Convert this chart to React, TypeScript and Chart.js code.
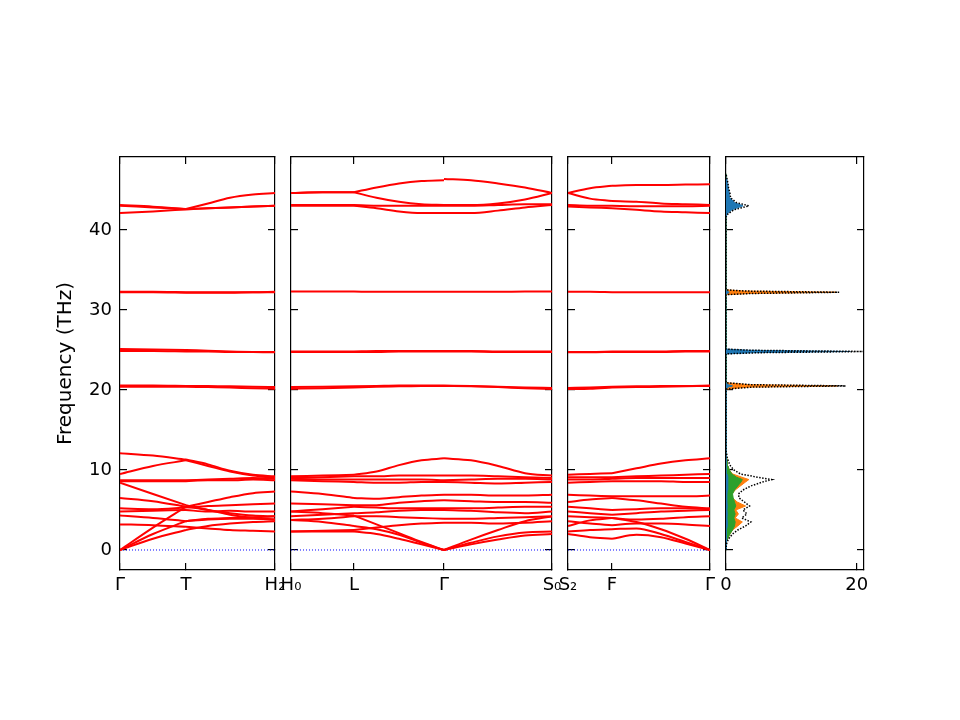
import React, { useEffect, useRef } from 'react';
import { Chart, registerables } from 'chart.js';

Chart.register(...registerables);

// ---------- axes / labels ----------
const Y_MIN = -2.5;
const Y_MAX = 49.1;
const yTickValues = [0, 10, 20, 30, 40];
const yTickLabels = ['0', '10', '20', '30', '40'];
const yTitle = 'Frequency (THz)';

const path1Ticks = [0, 0.66, 1.55];
const path1Labels = ['Γ', 'T', 'H₂'];
const path2Ticks = [0, 0.63, 1.53, 2.61];
const path2Labels = ['H₀', 'L', 'Γ', 'S₀'];
const path3Ticks = [0, 0.44, 1.42];
const path3Labels = ['S₂', 'F', 'Γ'];
const dosTicks = [0, 20];
const dosTickLabels = ['0', '20'];
const DOS_MAX = 21.1;

// ---------- band data (THz), sampled along each path ----------
const path1X = [0, 0.33, 0.66, 0.88, 1.1, 1.33, 1.55];
const path1Bands = [
  [12.1, 11.8, 11.3, 10.7, 9.9, 9.4, 9.2],
  [9.5, 10.5, 11.2, 10.5, 9.8, 9.3, 9.0],
  [8.7, 8.7, 8.7, 8.8, 8.9, 9.0, 8.9],
  [8.6, 8.6, 8.6, 8.7, 8.7, 8.8, 8.7],
  [8.4, 7.0, 5.6, 5.0, 4.6, 4.3, 4.2],
  [6.5, 6.1, 5.4, 6.0, 6.6, 7.1, 7.3],
  [5.2, 5.1, 5.3, 5.5, 5.6, 5.7, 5.8],
  [4.8, 4.9, 5.0, 4.8, 4.9, 4.8, 4.8],
  [4.3, 4.0, 3.6, 3.8, 3.9, 3.9, 3.8],
  [3.2, 3.1, 2.9, 2.7, 2.5, 2.4, 2.3],
  [0, 2.8, 5.4, 5.0, 4.4, 4.0, 3.8],
  [0, 2.0, 3.6, 3.9, 4.0, 4.1, 4.2],
  [0, 1.4, 2.5, 3.0, 3.3, 3.5, 3.6],
  [32.25, 32.25, 32.2, 32.2, 32.2, 32.2, 32.25],
  [32.2, 32.2, 32.15, 32.15, 32.15, 32.2, 32.2],
  [25.1, 25.05, 25.0, 24.9, 24.8, 24.75, 24.75],
  [24.85, 24.85, 24.8, 24.8, 24.75, 24.75, 24.7],
  [20.55, 20.55, 20.5, 20.5, 20.45, 20.4, 20.35],
  [20.4, 20.4, 20.4, 20.35, 20.3, 20.2, 20.15],
  [43.1, 42.9, 42.6, 43.3, 44.0, 44.4, 44.6],
  [43.0, 42.8, 42.6, 42.7, 42.8, 42.9, 43.0],
  [42.1, 42.3, 42.55, 42.7, 42.8, 42.9, 43.0],
];

const path2X = [0, 0.315, 0.63, 0.855, 1.08, 1.305, 1.53, 1.8, 2.07, 2.34, 2.61];
const path2Bands: (number | null)[][] = [
  [9.2, 9.3, 9.4, 9.8, 10.6, 11.2, 11.45, 11.2, 10.5, 9.6, 9.3],
  [9.0, 9.1, 9.2, 9.2, 9.3, 9.3, 9.3, 9.3, 9.2, 9.1, 9.0],
  [8.9, 8.8, 8.8, 8.8, 8.8, 8.8, 8.7, 8.8, 8.9, 8.9, 8.8],
  [8.7, 8.6, 8.5, 8.4, 8.4, 8.5, 8.5, 8.4, 8.3, 8.4, 8.5],
  [7.3, 7.0, 6.5, 6.4, 6.6, 6.8, 6.9, 6.9, 6.8, 6.8, 6.9],
  [5.8, 5.7, 5.6, 5.6, 5.9, 6.1, 6.2, 6.1, 6.0, 6.0, 5.9],
  [4.8, 5.1, 5.4, 5.3, 5.2, 5.2, 5.2, 5.2, 5.3, 5.4, 5.4],
  [4.2, 4.4, 4.6, 4.7, 4.9, 5.0, 5.0, 4.9, 4.7, 4.6, 4.8],
  [3.75, 3.9, 4.2, 4.2, 4.1, 4.0, 3.9, 3.9, 4.0, 4.1, 4.2],
  [2.3, 2.4, 2.5, 2.8, 3.1, 3.3, 3.4, 3.4, 3.3, 3.4, 3.6],
  [4.8, 4.6, 4.3, 3.2, 2.1, 1.0, 0, 1.3, 2.5, 3.6, 4.2],
  [3.75, 3.5, 3.0, 2.6, 1.9, 0.9, 0, 0.9, 1.7, 2.2, 2.3],
  [2.3, 2.3, 2.3, 2.0, 1.4, 0.7, 0, 0.7, 1.3, 1.8, 2.0],
  [32.3, 32.3, 32.3, 32.25, 32.25, 32.25, 32.25, 32.25, 32.25, 32.3, 32.3],
  [24.8, 24.8, 24.8, 24.85, 24.85, 24.85, 24.85, 24.85, 24.8, 24.8, 24.8],
  [24.75, 24.75, 24.75, 24.75, 24.8, 24.8, 24.8, 24.8, 24.75, 24.75, 24.75],
  [20.35, 20.4, 20.45, 20.5, 20.55, 20.55, 20.55, 20.5, 20.4, 20.3, 20.25],
  [20.15, 20.2, 20.3, 20.4, 20.45, 20.5, 20.5, 20.45, 20.35, 20.2, 20.1],
  [44.6, 44.7, 44.7, 45.3, 45.8, 46.1, 46.2, null, null, null, null],
  [null, null, null, null, null, null, 46.35, 46.2, 45.8, 45.3, 44.6],
  [44.6, 44.7, 44.7, 44.0, 43.5, 43.2, 43.1, 43.1, 43.3, 43.8, 44.6],
  [43.1, 43.1, 43.1, 43.0, 43.0, 43.0, 43.0, 43.0, 43.1, 43.2, 43.2],
  [43.0, 43.0, 43.0, 42.7, 42.3, 42.1, 42.1, 42.1, 42.4, 42.8, 43.1],
];

const path3X = [0, 0.22, 0.44, 0.685, 0.93, 1.175, 1.42];
const path3Bands = [
  [9.4, 9.5, 9.6, 10.2, 10.8, 11.2, 11.45],
  [9.1, 9.1, 9.1, 9.2, 9.3, 9.4, 9.5],
  [8.8, 8.8, 8.9, 9.0, 9.0, 9.0, 9.0],
  [8.4, 8.5, 8.6, 8.6, 8.6, 8.5, 8.5],
  [6.9, 6.8, 6.7, 6.7, 6.7, 6.7, 6.8],
  [6.0, 6.3, 6.5, 6.2, 5.8, 5.4, 5.2],
  [5.4, 5.2, 5.0, 5.1, 5.2, 5.2, 5.1],
  [4.8, 4.6, 4.4, 4.6, 4.8, 4.9, 5.0],
  [4.2, 4.1, 4.0, 3.8, 3.9, 4.1, 4.2],
  [3.6, 3.3, 3.1, 3.3, 3.3, 3.2, 3.0],
  [3.0, 3.7, 4.0, 3.5, 2.6, 1.4, 0],
  [2.3, 2.5, 2.6, 2.7, 2.0, 1.0, 0],
  [2.0, 1.6, 1.4, 1.9, 1.6, 0.8, 0],
  [32.25, 32.25, 32.2, 32.2, 32.2, 32.2, 32.2],
  [24.75, 24.75, 24.8, 24.8, 24.8, 24.85, 24.85],
  [24.7, 24.7, 24.75, 24.75, 24.75, 24.8, 24.8],
  [20.25, 20.3, 20.4, 20.45, 20.5, 20.5, 20.55],
  [20.1, 20.15, 20.3, 20.35, 20.4, 20.45, 20.5],
  [44.6, 45.2, 45.5, 45.6, 45.6, 45.65, 45.7],
  [44.6, 43.9, 43.6, 43.5, 43.3, 43.2, 43.1],
  [43.1, 43.0, 43.0, 42.95, 42.95, 42.95, 43.0],
  [42.9, 42.8, 42.7, 42.5, 42.3, 42.2, 42.1],
];

// ---------- DOS data ----------
const dosFreq = [
  0, 0.5, 1, 1.5, 2, 2.5, 3, 3.5, 4, 4.5, 5, 5.5, 6, 6.5, 7, 7.5, 8, 8.5, 8.8, 9.1, 9.5, 10, 10.5, 11, 11.5, 12, 12.4,
  20.1, 20.35, 20.5, 20.65, 20.9,
  24.5, 24.65, 24.8, 24.95, 25.1,
  31.9, 32.05, 32.2, 32.35, 32.5,
  41.6, 42.0, 42.5, 43.0, 43.4, 44.0, 44.6, 45.2, 45.8, 46.4, 47.0,
];
const dosTotal = [
  0, 0.05, 0.15, 0.5, 1.0, 1.8, 3.0, 3.8, 2.4, 3.2, 2.6, 3.6, 2.8, 2.0, 1.9, 2.6, 3.8, 5.6, 7.0, 4.8, 2.2, 1.2, 0.7, 0.4, 0.2, 0.1, 0,
  0, 4, 18.3, 4, 0,
  0, 5, 21.5, 4, 0,
  0, 4, 17.3, 3, 0,
  0, 0.3, 1.2, 3.5, 1.6, 0.7, 0.6, 0.4, 0.3, 0.15, 0,
];
const dosBlue = [
  0, 0, 0.02, 0.05, 0.1, 0.15, 0.2, 0.2, 0.15, 0.2, 0.15, 0.2, 0.15, 0.15, 0.15, 0.2, 0.25, 0.3, 0.3, 0.25, 0.15, 0.1, 0.08, 0.05, 0.03, 0.01, 0,
  0, 0.3, 1.0, 0.3, 0,
  0, 4, 19, 3.5, 0,
  0, 0.2, 0.5, 0.1, 0,
  0, 0.2, 0.9, 2.6, 1.3, 0.6, 0.5, 0.35, 0.25, 0.1, 0,
];
const dosOrange = [
  0, 0.03, 0.1, 0.3, 0.6, 1.0, 1.8, 2.5, 1.4, 1.9, 1.5, 3.0, 1.7, 1.0, 0.9, 1.4, 2.2, 3.0, 3.5, 2.4, 1.0, 0.5, 0.3, 0.2, 0.1, 0.05, 0,
  0, 3.5, 17, 3.5, 0,
  0, 1, 2.5, 0.8, 0,
  0, 3.6, 16.8, 2.8, 0,
  0, 0.1, 0.3, 0.9, 0.3, 0.1, 0.1, 0.05, 0.05, 0.05, 0,
];
const dosGreen = [
  0, 0.02, 0.08, 0.3, 0.6, 1.0, 1.3, 1.4, 1.2, 1.4, 1.2, 1.5, 1.3, 1.1, 1.0, 1.3, 1.8, 2.3, 2.5, 1.6, 0.9, 0.5, 0.3, 0.2, 0.1, 0.05, 0,
  0, 0.1, 0.4, 0.1, 0,
  0, 0.1, 0.2, 0.1, 0,
  0, 0.1, 0.2, 0.1, 0,
  0, 0, 0.05, 0.1, 0.05, 0, 0, 0, 0, 0, 0,
];

// ---------- layout ----------
const W = 960;
const H = 720;
const PANEL_TOP = 157;
const PANEL_BOTTOM = 570;
const panels = [
  { left: 120, right: 275 },
  { left: 291, right: 552 },
  { left: 568, right: 710 },
  { left: 726, right: 864 },
];
const FONT = "'DejaVu Sans', sans-serif";
const TICK_LEN = -7;
const TOP_H = 10;
const BOTTOM_H = 40;
const RIGHT_W = 10;

type AxisCfg = {
  position: string;
  min: number;
  max: number;
  values: number[];
  labels?: string[];
  size: number;
  padding?: number;
  title?: string;
};

function makeAxis(cfg: AxisCfg) {
  return {
    type: 'linear',
    position: cfg.position,
    min: cfg.min,
    max: cfg.max,
    afterBuildTicks: (s: any) => {
      s.ticks = cfg.values.map((v) => ({ value: v }));
    },
    afterFit: (s: any) => {
      if (s.isHorizontal()) s.height = cfg.size;
      else s.width = cfg.size;
      s.paddingLeft = 0;
      s.paddingRight = 0;
      s.paddingTop = 0;
      s.paddingBottom = 0;
    },
    ticks: {
      display: !!cfg.labels,
      autoSkip: false,
      maxRotation: 0,
      minRotation: 0,
      padding: cfg.padding ?? 0,
      color: '#000',
      font: { family: FONT, size: 18 },
      callback: (_v: any, i: number) => (cfg.labels ? cfg.labels[i] : ''),
    },
    grid: {
      display: true,
      drawOnChartArea: false,
      drawTicks: true,
      tickLength: TICK_LEN,
      color: '#000',
      lineWidth: 1.2,
    },
    border: { display: true, color: '#000', width: 1.2 },
    title: cfg.title
      ? { display: true, text: cfg.title, color: '#000', font: { family: FONT, size: 20 }, padding: { top: 4, bottom: 4 } }
      : { display: false },
  };
}

function layoutPadding(idx: number, leftW: number) {
  const p = panels[idx];
  return {
    left: p.left - leftW,
    right: W - p.right - RIGHT_W,
    top: PANEL_TOP - TOP_H,
    bottom: H - PANEL_BOTTOM - BOTTOM_H,
  };
}

// split each band into the segments between high-symmetry points
function segmentsOf(xs: number[], ys: (number | null)[], ticks: number[]) {
  const segs: { x: number; y: number }[][] = [];
  for (let t = 0; t < ticks.length - 1; t++) {
    const pts: { x: number; y: number }[] = [];
    xs.forEach((x, j) => {
      const y = ys[j];
      if (y !== null && x >= ticks[t] - 1e-9 && x <= ticks[t + 1] + 1e-9) pts.push({ x, y });
    });
    if (pts.length >= 2) segs.push(pts);
  }
  return segs;
}

function bandConfig(idx: number, xs: number[], bands: (number | null)[][], ticks: number[], labels: string[]) {
  const kMax = ticks[ticks.length - 1];
  const leftW = idx === 0 ? 70 : 10;
  const datasets: any[] = [];
  bands.forEach((ys) => {
    segmentsOf(xs, ys, ticks).forEach((pts) => {
      datasets.push({
        data: pts,
        borderColor: '#ff0000',
        borderWidth: 2,
        pointRadius: 0,
        cubicInterpolationMode: 'monotone',
        fill: false,
      });
    });
  });
  datasets.push({
    data: [
      { x: 0, y: 0 },
      { x: kMax, y: 0 },
    ],
    borderColor: '#0000ff',
    borderWidth: 1,
    borderDash: [1, 2],
    pointRadius: 0,
    fill: false,
  });
  return {
    type: 'line',
    data: { datasets },
    options: {
      animation: false,
      responsive: false,
      events: [],
      layout: { padding: layoutPadding(idx, leftW) },
      plugins: { legend: { display: false }, tooltip: { enabled: false } },
      scales: {
        x: makeAxis({ position: 'bottom', min: 0, max: kMax, values: ticks, labels, size: BOTTOM_H, padding: 12 }),
        x2: makeAxis({ position: 'top', min: 0, max: kMax, values: ticks, size: TOP_H }),
        y: makeAxis({
          position: 'left',
          min: Y_MIN,
          max: Y_MAX,
          values: yTickValues,
          labels: idx === 0 ? yTickLabels : undefined,
          size: leftW,
          padding: 15,
          title: idx === 0 ? yTitle : undefined,
        }),
        y2: makeAxis({ position: 'right', min: Y_MIN, max: Y_MAX, values: yTickValues, size: RIGHT_W }),
      },
    },
  };
}

function dosSeries(values: number[], color: string, filled: boolean) {
  return {
    data: values.map((v, i) => ({ x: v, y: dosFreq[i] })),
    borderColor: color,
    backgroundColor: color,
    borderWidth: filled ? 1 : 1.5,
    borderDash: filled ? [] : [1.5, 1.5],
    pointRadius: 0,
    tension: 0,
    fill: filled ? 'origin' : false,
  };
}

function dosConfig() {
  return {
    type: 'line',
    data: {
      datasets: [
        dosSeries(dosTotal, '#000000', false),
        dosSeries(dosBlue, '#1f77b4', true),
        dosSeries(dosGreen, '#2ca02c', true),
        dosSeries(dosOrange, '#ff7f0e', true),
      ],
    },
    options: {
      animation: false,
      responsive: false,
      events: [],
      indexAxis: 'y',
      layout: { padding: layoutPadding(3, 10) },
      plugins: { legend: { display: false }, tooltip: { enabled: false } },
      scales: {
        x: makeAxis({ position: 'bottom', min: 0, max: DOS_MAX, values: dosTicks, labels: dosTickLabels, size: BOTTOM_H, padding: 12 }),
        x2: makeAxis({ position: 'top', min: 0, max: DOS_MAX, values: dosTicks, size: TOP_H }),
        y: makeAxis({ position: 'left', min: Y_MIN, max: Y_MAX, values: yTickValues, size: 10 }),
        y2: makeAxis({ position: 'right', min: Y_MIN, max: Y_MAX, values: yTickValues, size: RIGHT_W }),
      },
    },
  };
}

export default function App() {
  const r1 = useRef<HTMLCanvasElement>(null);
  const r2 = useRef<HTMLCanvasElement>(null);
  const r3 = useRef<HTMLCanvasElement>(null);
  const r4 = useRef<HTMLCanvasElement>(null);

  useEffect(() => {
    document.body.style.margin = '0';
    const charts: Chart[] = [];
    const cfgs: any[] = [
      bandConfig(0, path1X, path1Bands, path1Ticks, path1Labels),
      bandConfig(1, path2X, path2Bands, path2Ticks, path2Labels),
      bandConfig(2, path3X, path3Bands, path3Ticks, path3Labels),
      dosConfig(),
    ];
    [r1, r2, r3, r4].forEach((r, i) => {
      if (r.current) charts.push(new Chart(r.current, cfgs[i]));
    });
    return () => charts.forEach((c) => c.destroy());
  }, []);

  const cs: React.CSSProperties = { position: 'absolute', left: 0, top: 0, width: W, height: H };
  return (
    <div style={{ position: 'relative', width: W, height: H, background: '#fff' }}>
      <canvas ref={r1} width={W} height={H} style={cs} />
      <canvas ref={r2} width={W} height={H} style={cs} />
      <canvas ref={r3} width={W} height={H} style={cs} />
      <canvas ref={r4} width={W} height={H} style={cs} />
    </div>
  );
}
